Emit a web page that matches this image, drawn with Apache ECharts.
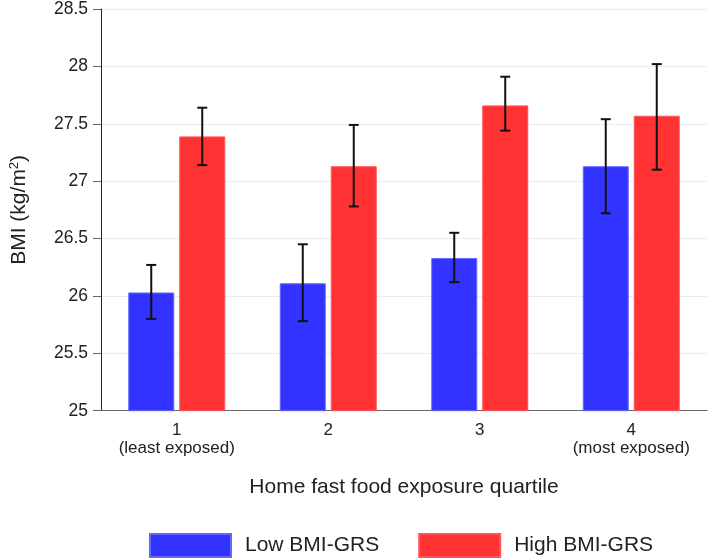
<!DOCTYPE html>
<html>
<head>
<meta charset="utf-8">
<script src="https://cdn.jsdelivr.net/npm/echarts@6/dist/echarts.min.js"></script>
<style>html,body{margin:0;padding:0;background:#fff}#c{width:709px;height:559px}</style>
</head>
<body>
<div id="c"></div>
<script>
const categories = ['1\n(least exposed)', '2', '3', '4\n(most exposed)'];
const seriesNames = ['Low BMI-GRS', 'High BMI-GRS'];
const lowValues = [26.03, 26.11, 26.33, 27.13];
const lowLower = [25.80, 25.78, 26.12, 26.72];
const lowUpper = [26.27, 26.45, 26.55, 27.54];
const highValues = [27.39, 27.13, 27.66, 27.57];
const highLower = [27.14, 26.78, 27.44, 27.10];
const highUpper = [27.64, 27.49, 27.91, 28.02];
const yTicks = [25, 25.5, 26, 26.5, 27, 27.5, 28, 28.5];

const FONT = '"Liberation Sans", Arial, sans-serif';
const BAR_W = 46, BAR_GAP = 5;

function errData(lo, hi) { return categories.map((c, i) => [i, lo[i], hi[i]]); }
function errSeries(name, lo, hi, offset) {
  return {
    type: 'custom', name: name + ' CI', silent: true, z: 10,
    data: errData(lo, hi),
    renderItem: function (params, api) {
      const i = api.value(0);
      const pLo = api.coord([i, api.value(1)]);
      const pHi = api.coord([i, api.value(2)]);
      const x = pLo[0] + offset;
      const cap = 5;
      const style = { stroke: '#111', lineWidth: 2 };
      return { type: 'group', children: [
        { type: 'line', shape: { x1: x, y1: pLo[1], x2: x, y2: pHi[1] }, style: style },
        { type: 'line', shape: { x1: x - cap, y1: pLo[1], x2: x + cap, y2: pLo[1] }, style: style },
        { type: 'line', shape: { x1: x - cap, y1: pHi[1], x2: x + cap, y2: pHi[1] }, style: style }
      ]};
    }
  };
}

const chart = echarts.init(document.getElementById('c'));
chart.setOption({
  animation: false,
  textStyle: { fontFamily: FONT },
  grid: { left: 101, right: 2, top: 7, bottom: 148.3, containLabel: false },
  legend: {
    data: seriesNames, left: 144, top: 528, itemWidth: 81, itemHeight: 23, itemGap: 39,
    icon: 'rect',
    textStyle: { fontSize: 21, color: '#222', fontFamily: FONT, padding: [0, 0, 0, 9] }
  },
  xAxis: {
    type: 'category', data: categories,
    name: 'Home fast food exposure quartile', nameLocation: 'middle', nameGap: 66,
    nameTextStyle: { fontSize: 21, color: '#222', fontFamily: FONT },
    axisLine: { lineStyle: { color: '#666', width: 1 } },
    axisTick: { alignWithLabel: true, interval: 0, length: 6, lineStyle: { color: '#444' } },
    axisLabel: { interval: 0, fontSize: 17, color: '#222', lineHeight: 18, margin: 11, fontFamily: FONT },
    splitLine: { show: false }
  },
  yAxis: {
    type: 'value', min: 25, max: 28.5, interval: 0.5,
    name: 'BMI (kg/m{s|2})', nameLocation: 'middle', nameGap: 70,
    nameTextStyle: { fontSize: 21, color: '#222', fontFamily: FONT,
      rich: { s: { fontSize: 13, verticalAlign: 'top', color: '#222', padding: [0, 0, 10, 0] } } },
    axisLine: { show: true, lineStyle: { color: '#222', width: 1 } },
    axisTick: { show: true, length: 8, lineStyle: { color: '#666' } },
    axisLabel: { fontSize: 17.5, color: '#222', margin: 13, fontFamily: FONT,
      formatter: function (v) { return yTicks.indexOf(v) >= 0 ? String(v) : ''; } },
    splitLine: { show: true, lineStyle: { color: '#e6eef2', width: 1 } }
  },
  series: [
    { type: 'bar', name: seriesNames[0], data: lowValues, barWidth: BAR_W, barGap: (BAR_GAP / BAR_W * 100) + '%',
      itemStyle: { color: '#3333ff', borderColor: '#6666ff', borderWidth: 1 } },
    { type: 'bar', name: seriesNames[1], data: highValues, barWidth: BAR_W,
      itemStyle: { color: '#ff3333', borderColor: '#ff5555', borderWidth: 1 } },
    errSeries(seriesNames[0], lowLower, lowUpper, -(BAR_W + BAR_GAP) / 2),
    errSeries(seriesNames[1], highLower, highUpper, (BAR_W + BAR_GAP) / 2)
  ]
});
</script>
</body>
</html>
